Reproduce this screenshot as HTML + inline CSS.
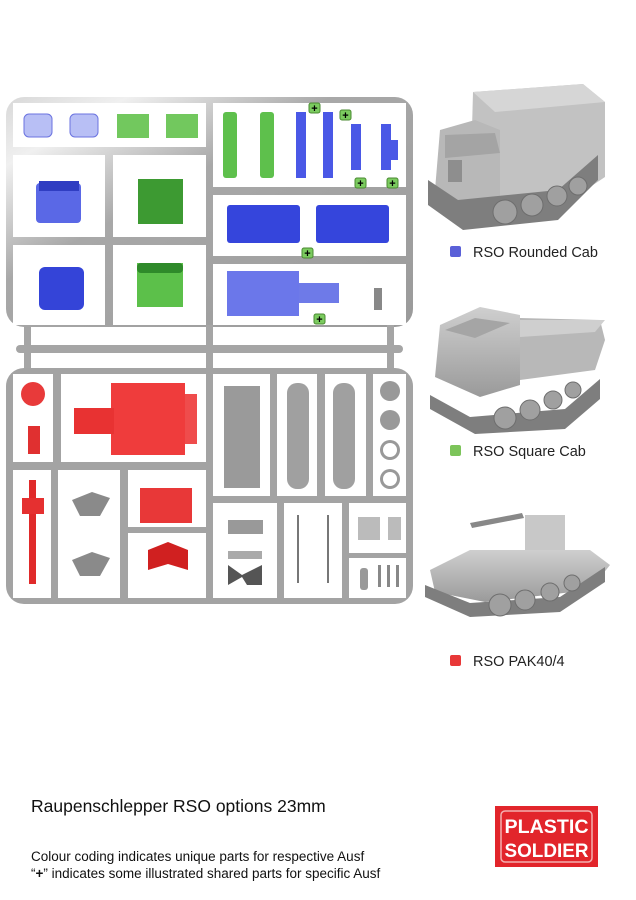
<!DOCTYPE html>
<html><head><meta charset="utf-8"><style>
html,body{margin:0;padding:0;background:#fff;width:636px;height:900px;overflow:hidden}
text{font-family:"Liberation Sans",Arial,sans-serif}
</style></head><body>
<svg width="636" height="900" viewBox="0 0 636 900" xmlns="http://www.w3.org/2000/svg">
<defs>
<linearGradient id="sil" x1="0" y1="0" x2="1" y2="1">
<stop offset="0" stop-color="#d8d8d8"/><stop offset="0.15" stop-color="#f0f0f0"/><stop offset="0.4" stop-color="#a8a8a8"/><stop offset="1" stop-color="#9a9a9a"/>
</linearGradient>
<linearGradient id="veh" x1="0" y1="0" x2="0" y2="1">
<stop offset="0" stop-color="#cfcfcf"/><stop offset="1" stop-color="#9a9a9a"/>
</linearGradient>
</defs>
<!-- top sprue -->
<rect x="6" y="97" width="407" height="230" rx="18" fill="url(#sil)"/>
<g fill="#fff">
<rect x="13" y="103" width="193" height="44"/>
<rect x="13" y="155" width="92" height="82"/>
<rect x="113" y="155" width="93" height="82"/>
<rect x="13" y="245" width="92" height="80"/>
<rect x="113" y="245" width="93" height="80"/>
<rect x="213" y="103" width="193" height="84"/>
<rect x="213" y="195" width="193" height="61"/>
<rect x="213" y="264" width="193" height="61"/>
</g>
<rect x="24" y="325" width="7" height="45" fill="#a5a5a5"/>
<rect x="206" y="325" width="7" height="45" fill="#a5a5a5"/>
<rect x="387" y="325" width="7" height="45" fill="#a5a5a5"/>
<rect x="16" y="345" width="387" height="8" rx="4" fill="#a5a5a5"/>
<!-- bottom sprue -->
<rect x="6" y="368" width="407" height="236" rx="18" fill="#a3a3a3"/>
<g fill="#fff">
<rect x="13" y="374" width="40" height="88"/>
<rect x="61" y="374" width="145" height="88"/>
<rect x="13" y="470" width="38" height="128"/>
<rect x="58" y="470" width="62" height="128"/>
<rect x="128" y="470" width="78" height="57"/>
<rect x="128" y="533" width="78" height="65"/>
<rect x="213" y="374" width="57" height="122"/>
<rect x="277" y="374" width="40" height="122"/>
<rect x="325" y="374" width="41" height="122"/>
<rect x="373" y="374" width="33" height="122"/>
<rect x="213" y="503" width="64" height="95"/>
<rect x="284" y="503" width="58" height="95"/>
<rect x="349" y="503" width="57" height="50"/>
<rect x="349" y="558" width="57" height="40"/>
</g>
<!-- top parts -->
<g fill="#b8bff5" stroke="#6b73e0"><rect x="24" y="114" width="28" height="23" rx="5"/><rect x="70" y="114" width="28" height="23" rx="5"/></g>
<g fill="#72c85e"><rect x="117" y="114" width="32" height="24"/><rect x="166" y="114" width="32" height="24"/></g>
<rect x="36" y="183" width="45" height="40" rx="4" fill="#5a68e6"/>
<rect x="39" y="181" width="40" height="10" fill="#2f3dc2"/>
<rect x="138" y="179" width="45" height="45" fill="#3d9a32"/>
<rect x="39" y="267" width="45" height="43" rx="6" fill="#3444d8"/>
<rect x="137" y="263" width="46" height="44" fill="#5cc04a"/>
<rect x="137" y="263" width="46" height="10" rx="4" fill="#2f8a2a"/>
<g fill="#5ec04c"><rect x="223" y="112" width="14" height="66" rx="3"/><rect x="260" y="112" width="14" height="66" rx="3"/></g>
<g fill="#4a58e6"><rect x="296" y="112" width="10" height="66"/><rect x="323" y="112" width="10" height="66"/><rect x="351" y="124" width="10" height="46"/><rect x="381" y="124" width="10" height="46"/><rect x="391" y="140" width="7" height="20"/></g>
<g fill="#3545dc"><rect x="227" y="205" width="73" height="38" rx="3"/><rect x="316" y="205" width="73" height="38" rx="3"/></g>
<rect x="227" y="271" width="72" height="45" fill="#6b77ea"/>
<rect x="299" y="283" width="40" height="20" fill="#6e7ae8"/>
<rect x="374" y="288" width="8" height="22" fill="#888"/>
<g fill="#7bcb5f" stroke="#4a8a30"><rect x="309" y="103" width="11" height="10" rx="2"/><rect x="340" y="110" width="11" height="10" rx="2"/><rect x="355" y="178" width="11" height="10" rx="2"/><rect x="387" y="178" width="11" height="10" rx="2"/><rect x="302" y="248" width="11" height="10" rx="2"/><rect x="314" y="314" width="11" height="10" rx="2"/></g>
<g fill="#000" font-size="11" font-weight="bold" text-anchor="middle"><text x="314.5" y="112">+</text><text x="345.5" y="119">+</text><text x="360.5" y="187">+</text><text x="392.5" y="187">+</text><text x="307.5" y="257">+</text><text x="319.5" y="323">+</text></g>
<!-- bottom parts -->
<circle cx="33" cy="394" r="12" fill="#e83a3a"/>
<rect x="28" y="426" width="12" height="28" fill="#e03030"/>
<rect x="111" y="383" width="74" height="72" fill="#ef3c3c"/>
<rect x="74" y="408" width="40" height="26" fill="#e83232"/>
<rect x="185" y="394" width="12" height="50" fill="#ef4c4c"/>
<rect x="29" y="480" width="7" height="104" fill="#e02a2a"/>
<rect x="22" y="498" width="22" height="16" fill="#e53030"/>
<path d="M72 500 l20 -8 l18 6 l-10 18 l-20 0 z M72 560 l20 -8 l18 6 l-10 18 l-20 0 z" fill="#8a8a8a"/>
<rect x="140" y="488" width="52" height="35" fill="#e83838"/>
<path d="M148 550 l20 -8 l20 8 l0 20 l-20 -6 l-20 6 z" fill="#d02020"/>
<rect x="224" y="386" width="36" height="102" fill="#9a9a9a"/>
<g fill="#a0a0a0"><rect x="287" y="383" width="22" height="106" rx="10"/><rect x="333" y="383" width="22" height="106" rx="10"/></g>
<g fill="#999"><circle cx="390" cy="391" r="10"/><circle cx="390" cy="420" r="10"/><circle cx="390" cy="450" r="10"/><circle cx="390" cy="479" r="10"/></g>
<g fill="#fff"><circle cx="390" cy="450" r="7"/><circle cx="390" cy="479" r="7"/></g>
<rect x="228" y="520" width="35" height="14" fill="#999"/>
<rect x="228" y="551" width="34" height="8" fill="#aaa"/>
<path d="M228 565 l14 10 l20 -10 l0 20 l-15 0 l-5 -8 l-14 8 z" fill="#555"/>
<g stroke="#777" stroke-width="2"><line x1="298" y1="515" x2="298" y2="583"/><line x1="328" y1="515" x2="328" y2="583"/></g>
<rect x="358" y="517" width="22" height="23" fill="#bbb"/><rect x="388" y="517" width="13" height="23" fill="#bbb"/>
<rect x="360" y="568" width="8" height="22" rx="3" fill="#999"/>
<g fill="#888"><rect x="378" y="565" width="3" height="22"/><rect x="387" y="565" width="3" height="22"/><rect x="396" y="565" width="3" height="22"/></g>
<!-- vehicle 1 -->
<path d="M473 92 l110 -8 l22 18 l0 75 l-30 20 l-100 10 l-5 -5 z" fill="#c2c2c2"/>
<path d="M473 92 l110 -8 l22 18 l-110 10 z" fill="#d6d6d6"/>
<path d="M440 130 l35 -10 l25 10 l0 70 l-30 10 l-35 -20 z" fill="#b8b8b8"/>
<path d="M445 135 l50 -2 l5 20 l-55 5 z" fill="#a4a4a4"/>
<rect x="448" y="160" width="14" height="22" fill="#8e8e8e"/>
<path d="M428 180 l30 20 l100 -10 l40 -35 l0 25 l-40 40 l-95 10 l-35 -25 z" fill="#7e7e7e"/>
<g fill="#a0a0a0" stroke="#6e6e6e"><circle cx="505" cy="212" r="12"/><circle cx="532" cy="205" r="11"/><circle cx="557" cy="196" r="10"/><circle cx="578" cy="186" r="9"/></g>
<!-- vehicle 2 -->
<path d="M520 318 l80 2 l5 20 l-10 30 l-75 10 z" fill="#b8b8b8"/>
<path d="M520 320 l85 0 l-10 12 l-75 5 z" fill="#cfcfcf"/>
<path d="M440 325 l40 -18 l40 8 l0 70 l-40 12 l-45 -20 z" fill="url(#veh)"/>
<path d="M445 330 l30 -12 l35 5 l-35 15 z" fill="#a5a5a5"/>
<path d="M430 395 l40 22 l95 -8 l35 -30 l0 20 l-35 30 l-90 5 l-45 -25 z" fill="#7e7e7e"/>
<g fill="#a0a0a0" stroke="#6e6e6e"><circle cx="505" cy="418" r="11"/><circle cx="530" cy="410" r="10"/><circle cx="553" cy="400" r="9"/><circle cx="573" cy="390" r="8"/></g>
<!-- vehicle 3 -->
<path d="M470 523 l52 -10 l2 5 l-52 10 z" fill="#888"/>
<rect x="525" y="515" width="40" height="35" fill="#c8c8c8"/>
<path d="M430 570 l40 -20 l60 0 l60 0 l20 15 l-20 25 l-105 12 l-50 -10 z" fill="url(#veh)"/>
<path d="M425 585 l45 18 l90 -6 l45 -30 l0 15 l-45 30 l-90 5 l-45 -20 z" fill="#7e7e7e"/>
<g fill="#a0a0a0" stroke="#6e6e6e"><circle cx="500" cy="605" r="11"/><circle cx="525" cy="600" r="10"/><circle cx="550" cy="592" r="9"/><circle cx="572" cy="583" r="8"/></g>
<!-- legend -->
<rect x="450" y="246" width="11" height="11" rx="2" fill="#5a60d8"/>
<text x="473" y="257" font-size="14.5" fill="#222">RSO Rounded Cab</text>
<rect x="450" y="445" width="11" height="11" rx="2" fill="#7cc45a"/>
<text x="473" y="456" font-size="14.5" fill="#222">RSO Square Cab</text>
<rect x="450" y="655" width="11" height="11" rx="2" fill="#e83838"/>
<text x="473" y="666" font-size="14.5" fill="#222">RSO PAK40/4</text>
<!-- footer -->
<text x="31" y="812" font-size="17.5" fill="#111">Raupenschlepper RSO options 23mm</text>
<text x="31" y="861" font-size="13.5" fill="#111">Colour coding indicates unique parts for respective Ausf</text>
<text x="31" y="878" font-size="13.5" fill="#111">“<tspan font-weight="bold">+</tspan>” indicates some illustrated shared parts for specific Ausf</text>
<!-- logo -->
<rect x="495" y="806" width="103" height="61" fill="#e2252b"/>
<rect x="501" y="811" width="91" height="51" rx="4" fill="none" stroke="#f3b0b0" stroke-width="1.5"/>
<text x="546.5" y="833" font-size="19" font-weight="bold" fill="#fff" text-anchor="middle" textLength="84" lengthAdjust="spacingAndGlyphs">PLASTIC</text>
<text x="546.5" y="857" font-size="19" font-weight="bold" fill="#fff" text-anchor="middle" textLength="84" lengthAdjust="spacingAndGlyphs">SOLDIER</text>
</svg>
</body></html>
